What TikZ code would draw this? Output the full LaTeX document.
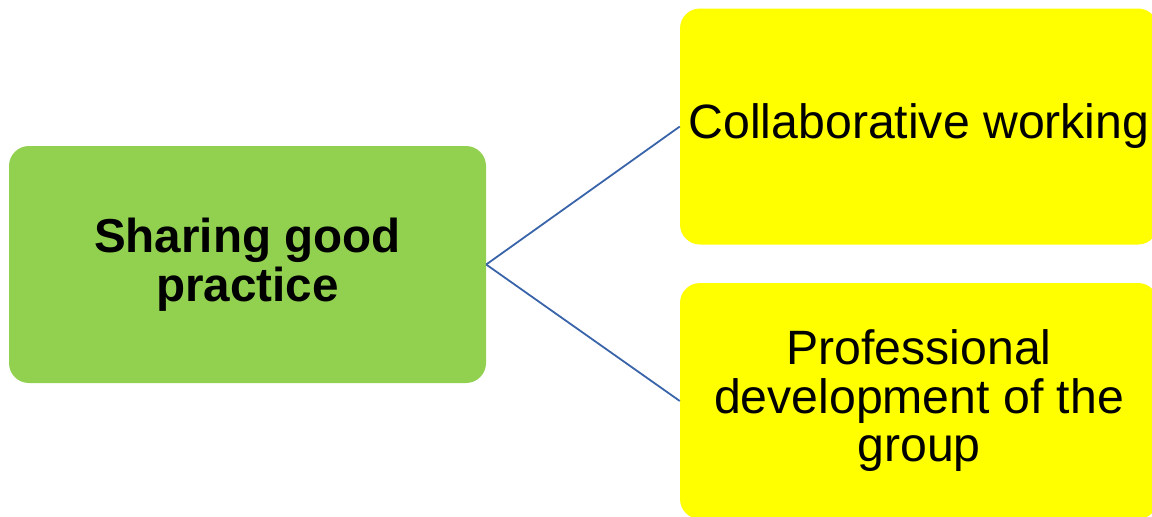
\documentclass[tikz,border=0pt]{standalone}
\usepackage{fontspec}
\setmainfont{Liberation Sans}
\definecolor{boxgreen}{HTML}{92D050}
\definecolor{boxyellow}{HTML}{FFFF00}
\definecolor{linkblue}{HTML}{3A64AA}
\begin{document}
\begin{tikzpicture}[x=1pt,y=-1pt,
  basebox/.style={rectangle, rounded corners=20pt, inner sep=0pt, align=center,
    font=\fontsize{48.2}{48.5}\selectfont},
  greenbox/.style={basebox, fill=boxgreen, minimum width=477pt, minimum height=237pt, font=\fontsize{47.6}{48.5}\selectfont\bfseries},
  yellowbox/.style={basebox, fill=boxyellow, minimum width=478pt, minimum height=236pt},
  link/.style={draw=linkblue, line width=1.8pt}]
\useasboundingbox (0,0) rectangle (1152,517);
\clip (0,0) rectangle (1152,517);
\node[greenbox] (share) at (247.5,264.5) {Sharing good\\practice};
\node[yellowbox] (collab) at (919,126.5) {Collaborative working};
\node[yellowbox] (prof) at (919,401) {Professional\\development of the\\group};
\draw[link] (share.east) -- (collab.west);
\draw[link] (share.east) -- (prof.west);
\end{tikzpicture}
\end{document}
